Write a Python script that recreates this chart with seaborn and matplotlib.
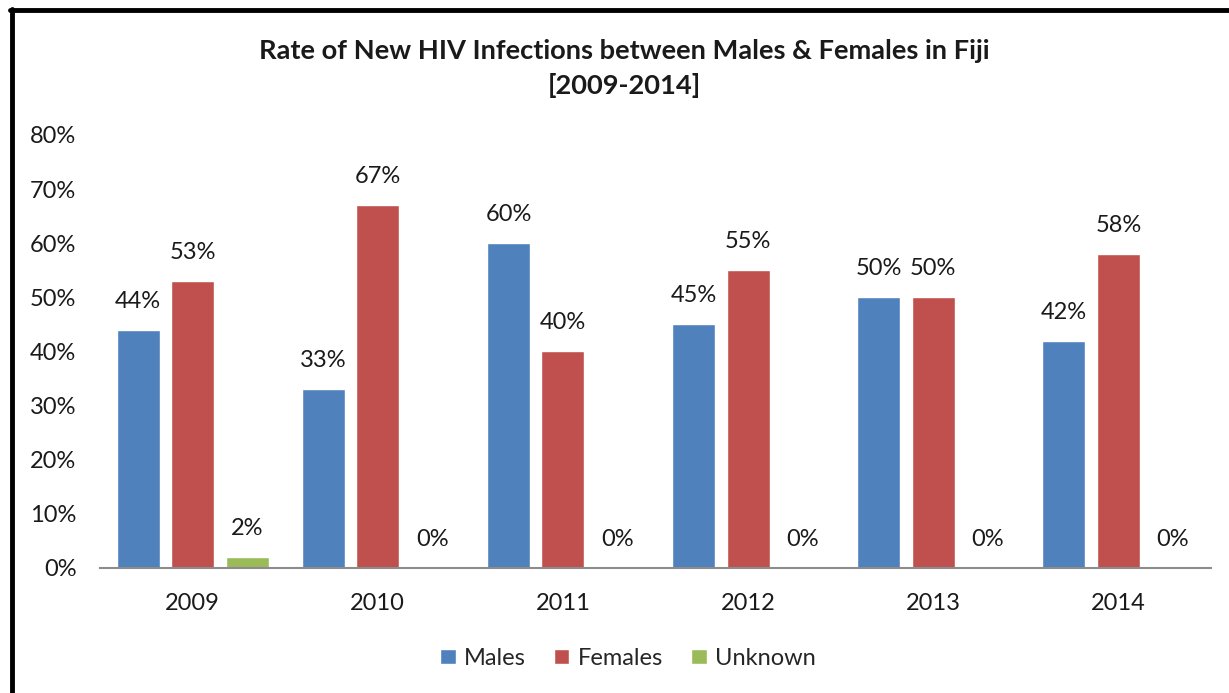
import pandas as pd
import matplotlib
matplotlib.use("Agg")
import matplotlib.pyplot as plt
import matplotlib.lines as mlines
from matplotlib.ticker import FuncFormatter
import seaborn as sns

# ---- data ----
years = ["2009", "2010", "2011", "2012", "2013", "2014"]
males = [44, 33, 60, 45, 50, 42]
females = [53, 67, 40, 55, 50, 58]
unknown = [2, 0, 0, 0, 0, 0]
groups = ["Males", "Females", "Unknown"]
colors = ["#4F81BD", "#C0504D", "#9BBB59"]

df = pd.DataFrame({
    "year": years * 3,
    "group": [g for g in groups for _ in years],
    "rate": males + females + unknown,
})

sns.set_theme(style="white")
plt.rcParams['font.family'] = ['Lato', 'DejaVu Sans']

TXT = "#1a1a1a"
FS = 17

fig = plt.figure(figsize=(12.29, 6.93), dpi=100)
ax = fig.add_axes([0.0814, 0.1804, 0.904, 0.6248])

sns.barplot(data=df, x="year", y="rate", hue="group", palette=colors,
            width=0.883, gap=0.21, ax=ax, legend=True, saturation=1)

for cont in ax.containers:
    ax.bar_label(cont, labels=[f"{int(round(v))}%" for v in cont.datavalues],
                 padding=13, fontsize=FS, color=TXT)

ax.set_ylim(0, 80)
ax.set_yticks(range(0, 81, 10))
ax.yaxis.set_major_formatter(FuncFormatter(lambda v, p: f"{int(v)}%"))
ax.set_xlim(-0.5, 5.5)
ax.tick_params(axis="y", length=0, pad=17, labelsize=FS, labelcolor=TXT)
ax.tick_params(axis="x", length=0, pad=18, labelsize=FS, labelcolor=TXT)
ax.set_xlabel("")
ax.set_ylabel("")
for s in ["top", "right", "left"]:
    ax.spines[s].set_visible(False)
ax.spines["bottom"].set_color("#8c8c8c")
ax.spines["bottom"].set_linewidth(1.5)

leg = ax.get_legend()
handles = leg.legend_handles
leg.remove()
fig.legend(handles=handles, labels=groups, loc="center",
           bbox_to_anchor=(0.511, 0.05), ncol=3, frameon=False, fontsize=FS,
           handlelength=0.65, handleheight=0.65, handletextpad=0.35, columnspacing=1.2)

fig.text(0.508, 0.927, "Rate of New HIV Infections between Males & Females in Fiji",
         ha="center", va="center", fontsize=19.6, fontweight="bold", color=TXT)
fig.text(0.508, 0.876, "[2009-2014]",
         ha="center", va="center", fontsize=19.6, fontweight="bold", color=TXT)

# black frame on left and top
fig.add_artist(mlines.Line2D([12 / 1229, 12 / 1229], [0, 1 - 9 / 693], color="black",
                             linewidth=3.5, transform=fig.transFigure))
fig.add_artist(mlines.Line2D([10 / 1229, 1], [1 - 10 / 693, 1 - 10 / 693], color="black",
                             linewidth=3.5, transform=fig.transFigure))

fig.savefig("out.png", dpi=100)
